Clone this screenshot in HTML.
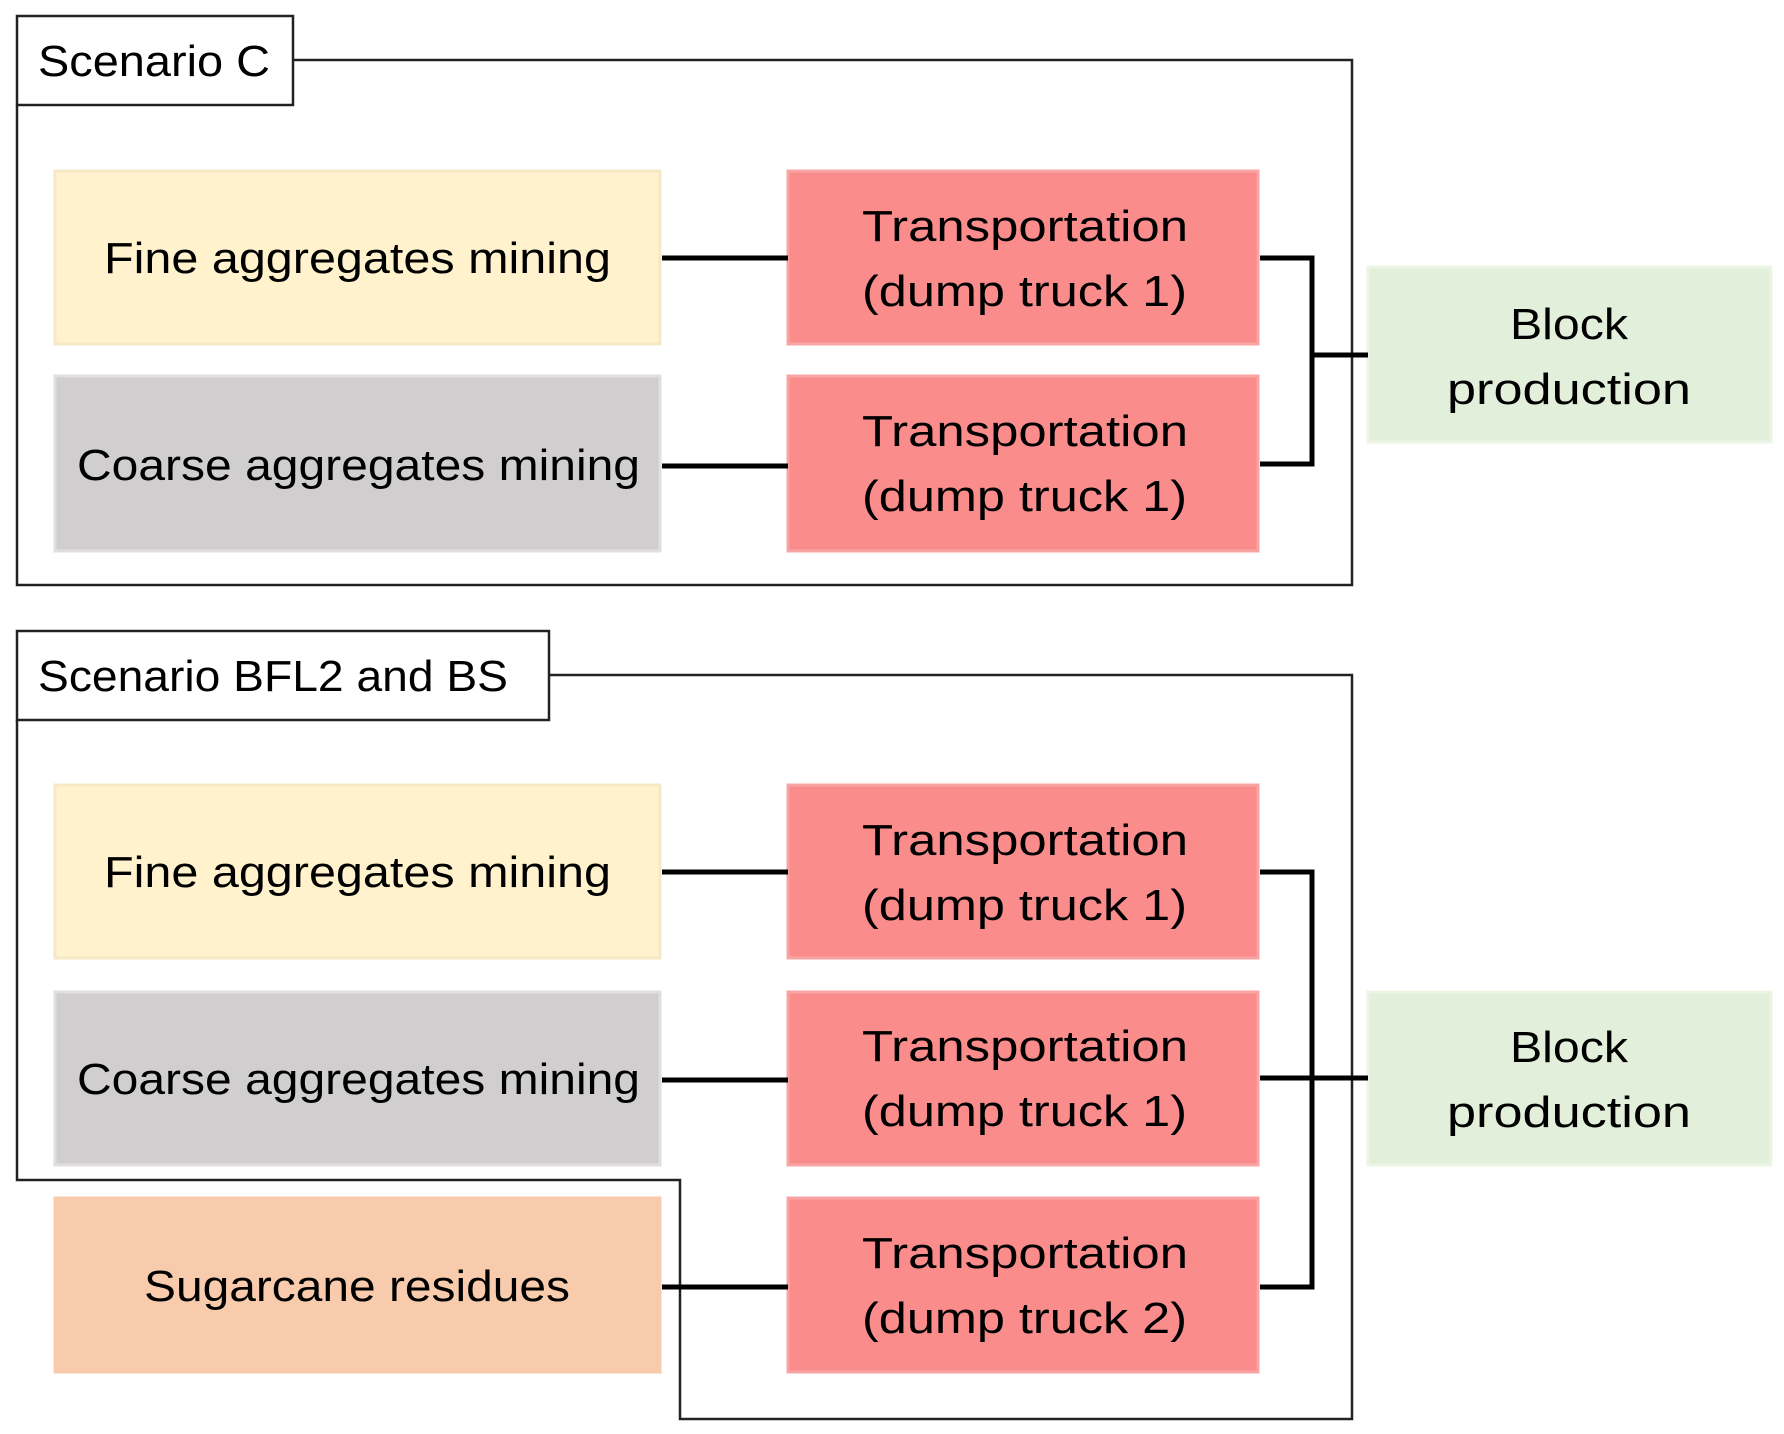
<!DOCTYPE html>
<html><head><meta charset="utf-8"><style>html,body{margin:0;padding:0;background:#fff}svg{display:block}</style></head>
<body>
<svg width="1784" height="1434" viewBox="0 0 1784 1434" xmlns="http://www.w3.org/2000/svg" font-family="Liberation Sans, sans-serif" font-size="44" fill="#000">
<!-- Scenario C frame -->
<polyline points="293,60 1352,60 1352,585 17,585 17,105" fill="none" stroke="#222" stroke-width="2.5"/>
<rect x="17" y="16" width="276" height="89" fill="#fff" stroke="#222" stroke-width="2.5"/>
<text x="38" y="76" textLength="232" lengthAdjust="spacingAndGlyphs">Scenario C</text>

<rect x="55" y="171" width="605" height="173" fill="#fff2cc" stroke="#f5e8c4" stroke-width="3"/>
<rect x="55" y="376" width="605" height="175" fill="#d0cece" stroke="#e0dede" stroke-width="3"/>
<rect x="788" y="171" width="470" height="173" fill="#fa8c8c" stroke="#f8a4a4" stroke-width="3"/>
<rect x="788" y="376" width="470" height="175" fill="#fa8c8c" stroke="#f8a4a4" stroke-width="3"/>
<rect x="1368" y="267" width="403" height="175" fill="#e2efda" stroke="#ecf4e6" stroke-width="3"/>

<g stroke="#000" stroke-width="5" fill="none">
<line x1="662" y1="258" x2="788" y2="258"/>
<line x1="662" y1="466" x2="788" y2="466"/>
<polyline points="1260,258 1312,258 1312,464 1260,464"/>
<line x1="1312" y1="355" x2="1368" y2="355"/>
</g>

<text x="104" y="273" textLength="507" lengthAdjust="spacingAndGlyphs">Fine aggregates mining</text>
<text x="77" y="480" textLength="563" lengthAdjust="spacingAndGlyphs">Coarse aggregates mining</text>
<text x="862" y="241" textLength="326" lengthAdjust="spacingAndGlyphs">Transportation</text>
<text x="862" y="306" textLength="325" lengthAdjust="spacingAndGlyphs">(dump truck 1)</text>
<text x="862" y="446" textLength="326" lengthAdjust="spacingAndGlyphs">Transportation</text>
<text x="862" y="511" textLength="325" lengthAdjust="spacingAndGlyphs">(dump truck 1)</text>
<text x="1569" y="339" text-anchor="middle" textLength="118" lengthAdjust="spacingAndGlyphs">Block</text>
<text x="1569" y="404" text-anchor="middle" textLength="244" lengthAdjust="spacingAndGlyphs">production</text>

<!-- Scenario BFL2 frame -->
<polyline points="549,675 1352,675 1352,1419 680,1419 680,1180 17,1180 17,720" fill="none" stroke="#222" stroke-width="2.5"/>
<rect x="17" y="631" width="532" height="89" fill="#fff" stroke="#222" stroke-width="2.5"/>
<text x="38" y="691" textLength="470" lengthAdjust="spacingAndGlyphs">Scenario BFL2 and BS</text>

<rect x="55" y="785" width="605" height="173" fill="#fff2cc" stroke="#f5e8c4" stroke-width="3"/>
<rect x="55" y="992" width="605" height="173" fill="#d0cece" stroke="#e0dede" stroke-width="3"/>
<rect x="55" y="1198" width="605" height="174" fill="#f8cbad" stroke="#f8cbad" stroke-width="3"/>
<rect x="788" y="785" width="470" height="173" fill="#fa8c8c" stroke="#f8a4a4" stroke-width="3"/>
<rect x="788" y="992" width="470" height="173" fill="#fa8c8c" stroke="#f8a4a4" stroke-width="3"/>
<rect x="788" y="1198" width="470" height="174" fill="#fa8c8c" stroke="#f8a4a4" stroke-width="3"/>
<rect x="1368" y="992" width="403" height="173" fill="#e2efda" stroke="#ecf4e6" stroke-width="3"/>

<g stroke="#000" stroke-width="5" fill="none">
<line x1="662" y1="872" x2="788" y2="872"/>
<line x1="662" y1="1080" x2="788" y2="1080"/>
<line x1="662" y1="1287" x2="788" y2="1287"/>
<polyline points="1260,872 1312,872 1312,1287 1260,1287"/>
<line x1="1260" y1="1078" x2="1368" y2="1078"/>
</g>

<text x="104" y="887" textLength="507" lengthAdjust="spacingAndGlyphs">Fine aggregates mining</text>
<text x="77" y="1094" textLength="563" lengthAdjust="spacingAndGlyphs">Coarse aggregates mining</text>
<text x="144" y="1301" textLength="426" lengthAdjust="spacingAndGlyphs">Sugarcane residues</text>
<text x="862" y="855" textLength="326" lengthAdjust="spacingAndGlyphs">Transportation</text>
<text x="862" y="920" textLength="325" lengthAdjust="spacingAndGlyphs">(dump truck 1)</text>
<text x="862" y="1061" textLength="326" lengthAdjust="spacingAndGlyphs">Transportation</text>
<text x="862" y="1126" textLength="325" lengthAdjust="spacingAndGlyphs">(dump truck 1)</text>
<text x="862" y="1268" textLength="326" lengthAdjust="spacingAndGlyphs">Transportation</text>
<text x="862" y="1333" textLength="325" lengthAdjust="spacingAndGlyphs">(dump truck 2)</text>
<text x="1569" y="1062" text-anchor="middle" textLength="118" lengthAdjust="spacingAndGlyphs">Block</text>
<text x="1569" y="1127" text-anchor="middle" textLength="244" lengthAdjust="spacingAndGlyphs">production</text>
</svg>
</body></html>
